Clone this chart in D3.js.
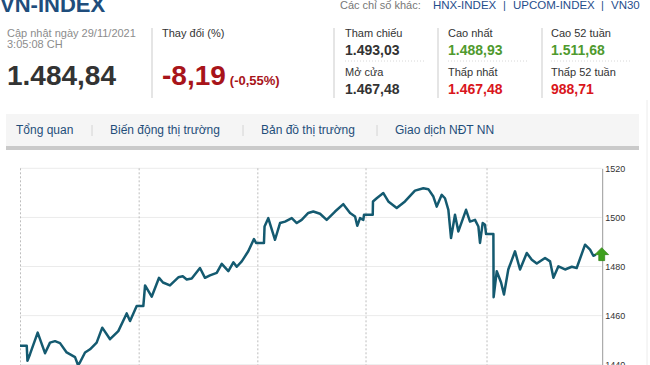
<!DOCTYPE html>
<html>
<head>
<meta charset="utf-8">
<script src="https://cdn.jsdelivr.net/npm/d3@7"></script>
<style>
  html, body { margin: 0; padding: 0; background: #fff; }
  svg { display: block; font-family: Arial, "Liberation Sans", sans-serif; }
</style>
</head>
<body>
<div id="chart"></div>
<script>
// intraday ticks (point index) and VN-INDEX level, 5 sessions
const ticks = [0, 5.8, 6.4, 8.6, 15.2, 21.5, 25.8, 30.1, 34.4, 40.1, 47.3, 49.9, 51.6, 55.9, 60.2, 65.9,
  70.7, 77.4, 84.5, 91.7, 94.6, 100.3, 106.0, 107.5, 113.2, 119.5, 122.9, 128.9, 136.1, 139.9,
  143.3, 147.6, 154.7, 159.0, 163.3, 169.1, 173.4, 179.1, 183.4, 186.3, 190.6, 196.2, 201.1,
  202.9, 209.7, 210.2, 213.4, 219.2, 223.5, 227.8, 233.6, 237.9, 242.1, 247.8, 252.1, 257.9,
  263.6, 270.8, 277.9, 283.7, 288.0, 289.9, 292.3, 295.1, 295.7, 303.2, 303.4, 306.6, 312.3,
  316.6, 323.8, 330.9, 339.5, 346.7, 351.0, 355.3, 358.2, 362.5, 365.3, 368.2, 370.5, 373.9,
  376.8, 383.4, 386.8, 391.1, 394.0, 395.4, 397.7, 399.7, 400.6, 406.9, 407.1, 409.8, 413.5,
  416.0, 419.7, 425.5, 429.8, 435.6, 439.9, 444.2, 451.3, 455.6, 458.5, 462.8, 468.5, 474.3,
  478.5, 485.7, 490.0, 492.8, 495.1];
const values = [1447.7, 1447.7, 1441.6, 1444.3, 1453.1, 1444.7, 1449.0, 1449.6, 1448.8, 1445.0,
  1443.1, 1439.8, 1441.0, 1445.0, 1446.3, 1449.0, 1455.1, 1450.4, 1453.7, 1460.9, 1457.8,
  1463.9, 1463.9, 1472.3, 1467.7, 1475.4, 1473.5, 1472.3, 1475.6, 1476.0, 1474.7, 1475.1,
  1479.4, 1475.4, 1476.4, 1477.4, 1481.1, 1478.1, 1481.7, 1479.9, 1482.1, 1486.2, 1491.2,
  1489.6, 1489.6, 1496.3, 1499.7, 1490.9, 1497.7, 1498.3, 1499.7, 1497.7, 1499.0, 1501.8,
  1502.4, 1501.5, 1499.0, 1502.4, 1505.4, 1501.8, 1500.4, 1496.6, 1499.7, 1499.0, 1501.1,
  1501.1, 1506.5, 1507.8, 1509.9, 1506.5, 1503.8, 1506.5, 1510.9, 1511.9, 1511.5, 1508.5,
  1504.4, 1509.2, 1507.8, 1503.1, 1491.6, 1501.1, 1494.3, 1503.1, 1498.3, 1499.0, 1496.3,
  1489.6, 1497.7, 1497.0, 1493.2, 1493.2, 1467.5, 1478.1, 1473.5, 1468.6, 1478.8, 1486.2,
  1478.8, 1485.5, 1482.8, 1481.2, 1483.5, 1482.1, 1475.4, 1480.1, 1478.8, 1479.9, 1479.4,
  1488.9, 1486.9, 1484.4, 1484.84];
const dayBreaks = [0, 102, 204, 297, 401];
const yTicks = [1440, 1460, 1480, 1500, 1520];

const navItems = ["Tổng quan", "Biến động thị trường", "Bản đồ thị trường", "Giao dịch NĐT NN"];
const otherIndexes = ["HNX-INDEX", "UPCOM-INDEX", "VN30"];
const statLabels = [["Tham chiếu", "Mở cửa"], ["Cao nhất", "Thấp nhất"], ["Cao 52 tuần", "Thấp 52 tuần"]];
const statValues = [["1.493,03", "1.467,48"], ["1.488,93", "1.467,48"], ["1.511,68", "988,71"]];
const statColors = [["#333333", "#333333"], ["#4f9a2e", "#d9161c"], ["#4f9a2e", "#d9161c"]];

const W = 650, H = 365;
const svg = d3.select("#chart").append("svg").attr("width", W).attr("height", H);

// ---- header
svg.append("text").attr("x", 0).attr("y", 12)
  .attr("font-size", "22px").attr("font-weight", "bold").attr("fill", "#204d7c")
  .text("VN-INDEX");

svg.append("text").attr("x", 340).attr("y", 9)
  .attr("font-size", "11px").attr("fill", "#777").text("Các chỉ số khác:");
const idxX = [433, 513, 611];
otherIndexes.forEach((s, i) => {
  svg.append("text").attr("x", idxX[i]).attr("y", 9)
    .attr("font-size", "11.5px").attr("fill", "#1f4e8c").text(s);
  if (i < otherIndexes.length - 1)
    svg.append("text").attr("x", idxX[i + 1] - 10).attr("y", 9)
      .attr("font-size", "11px").attr("fill", "#1f4e8c").text("|");
});

svg.append("text").attr("x", 7).attr("y", 37)
  .attr("font-size", "11px").attr("fill", "#8c8c8c").text("Cập nhật ngày 29/11/2021");
svg.append("text").attr("x", 7).attr("y", 47.5)
  .attr("font-size", "11px").attr("fill", "#8c8c8c").text("3:05:08 CH");
svg.append("text").attr("x", 7).attr("y", 85)
  .attr("font-size", "28px").attr("font-weight", "bold").attr("fill", "#333").text("1.484,84");

const seps = [152, 334, 438, 542];
seps.forEach(sx => {
  svg.append("line").attr("x1", sx).attr("x2", sx).attr("y1", 28).attr("y2", 98)
    .attr("stroke", "#dcdcdc").attr("stroke-width", 1.5);
});

svg.append("text").attr("x", 162).attr("y", 36.5)
  .attr("font-size", "11px").attr("fill", "#333").text("Thay đổi (%)");
const chg = svg.append("text").attr("x", 162).attr("y", 85).attr("fill", "#a8141a").attr("font-weight", "bold");
chg.append("tspan").attr("font-size", "28px").text("-8,19");
chg.append("tspan").attr("font-size", "13px").attr("dx", 4).text("(-0,55%)");

const colX = [345, 448, 551];
colX.forEach((cx, c) => {
  [0, 1].forEach(r => {
    const y0 = r === 0 ? 36.5 : 76;
    svg.append("text").attr("x", cx).attr("y", y0)
      .attr("font-size", "11px").attr("fill", "#333").text(statLabels[c][r]);
    svg.append("text").attr("x", cx).attr("y", y0 + 18)
      .attr("font-size", "14px").attr("font-weight", "bold")
      .attr("fill", statColors[c][r]).text(statValues[c][r]);
  });
  svg.append("line").attr("x1", cx).attr("x2", cx + 80).attr("y1", 61).attr("y2", 61)
    .attr("stroke", "#d8d8d8").attr("stroke-dasharray", "1,2");
});

// ---- nav bar
svg.append("rect").attr("x", 6).attr("y", 114).attr("width", 633).attr("height", 33).attr("fill", "#f5f5f5");
svg.append("rect").attr("x", 6).attr("y", 146).attr("width", 633).attr("height", 4).attr("fill", "#cacaca");
const navX = [16, 110, 261, 395];
navItems.forEach((s, i) => {
  svg.append("text").attr("x", navX[i]).attr("y", 134)
    .attr("font-size", "12px").attr("fill", "#1f4e7a").text(s);
  if (i > 0)
    svg.append("line").attr("x1", navX[i] - 18).attr("x2", navX[i] - 18).attr("y1", 125).attr("y2", 136)
      .attr("stroke", "#d4d4d4");
});
svg.append("line").attr("x1", 647).attr("x2", 647).attr("y1", 100).attr("y2", H)
  .attr("stroke", "#ececec");

// ---- chart
const x = d3.scaleLinear().domain([0, 500]).range([20, 601.7]);
const y = d3.scaleLinear().domain([1430, 1520]).range([389.3, 168.3]);

const g = svg.append("g");
g.selectAll(".hgrid").data(yTicks).join("line")
  .attr("x1", x(0)).attr("x2", x(500))
  .attr("y1", d => y(d)).attr("y2", d => y(d))
  .attr("stroke", "#ebebeb");

g.selectAll(".vgrid").data(dayBreaks).join("line")
  .attr("x1", d => x(d) + 0.5).attr("x2", d => x(d) + 0.5)
  .attr("y1", y(1520)).attr("y2", H)
  .attr("stroke", "#bdbdbd").attr("stroke-dasharray", "2,2");

const axis = g.append("g")
  .attr("transform", `translate(${x(500) + 0.5},0)`)
  .call(d3.axisRight(y).tickValues(yTicks).tickSize(0).tickPadding(3).tickFormat(d3.format("d")));
axis.select(".domain").attr("stroke", "#999");
axis.selectAll(".tick text").attr("font-size", "9px").attr("fill", "#333")
  .attr("font-family", "Arial, 'Liberation Sans', sans-serif");

const pts = ticks.map((t, i) => [t, values[i]]);
g.append("path").datum(pts)
  .attr("fill", "none").attr("stroke", "#145a70").attr("stroke-width", 2.5)
  .attr("stroke-linejoin", "round")
  .attr("d", d3.line().x(d => x(d[0])).y(d => y(d[1])));

// green up arrow at last value
const ax = x(500), ay = y(values[values.length - 1]);
g.append("path")
  .attr("transform", `translate(${ax},${ay})`)
  .attr("d", "M0,-7 L7,0 L3,0 L3,6 L-3,6 L-3,0 L-7,0 Z")
  .attr("fill", "#3ea01e").attr("stroke", "#2a7a12").attr("stroke-width", 0.6);
</script>
</body>
</html>
